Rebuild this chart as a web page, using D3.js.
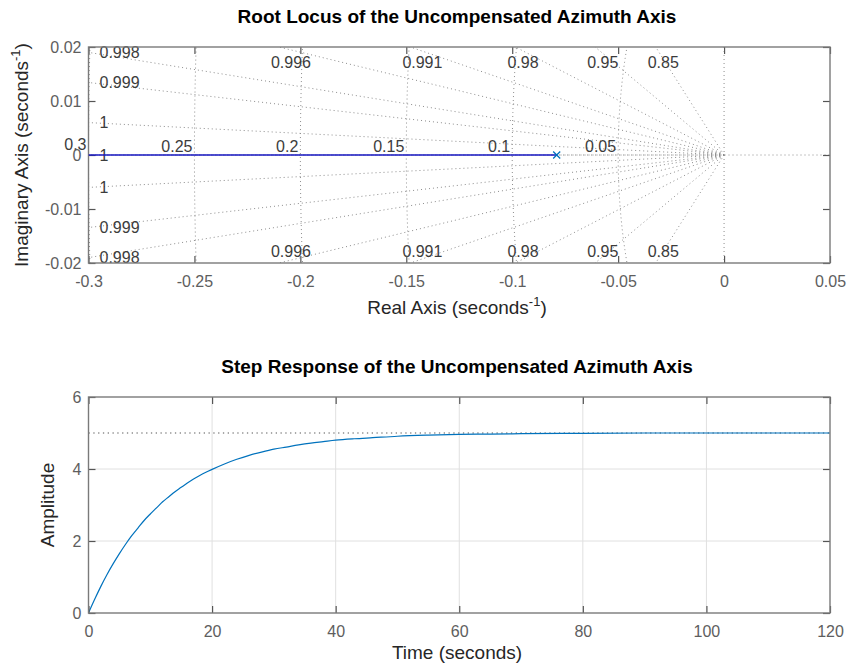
<!DOCTYPE html>
<html>
<head>
<meta charset="utf-8">
<script src="https://cdn.jsdelivr.net/npm/d3@7"></script>
<style>
  body { margin: 0; background: #fff; }
  svg { display: block; }
  text { font-family: "Liberation Sans", Arial, Helvetica, sans-serif; }
</style>
</head>
<body>
<svg id="chart" width="850" height="671"></svg>
<script>
// ---- root locus data ----
const poles = [-0.079];
const dampingValues = [0.85, 0.95, 0.98, 0.991, 0.9955, 0.998, 0.999, 0.9998, 1];
const dampingLabels = ["0.85", "0.95", "0.98", "0.991", "0.996", "0.998", "0.999", "1", "1"];
const wnValues = [0.05, 0.1, 0.15, 0.2, 0.25, 0.3];
const wnLabels = ["0.05", "0.1", "0.15", "0.2", "0.25", "0.3"];
const rlXTicks = [-0.3, -0.25, -0.2, -0.15, -0.1, -0.05, 0, 0.05];
const rlYTicks = [-0.02, -0.01, 0, 0.01, 0.02];

// ---- step response data ----
const stepTime = [0, 1, 2, 3, 4, 5, 6, 7, 8, 9, 10, 11, 12, 13, 14, 15, 16, 17, 18, 19, 20,
                  22, 24, 26, 28, 30, 32, 34, 36, 38, 40, 43, 46, 50, 55, 60, 65, 70, 80, 90, 100, 110, 120];
const stepAmp  = [0, 0.38, 0.74, 1.07, 1.37, 1.65, 1.91, 2.15, 2.36, 2.57, 2.75, 2.92, 3.09, 3.23, 3.37, 3.49, 3.61, 3.72, 3.82, 3.91, 3.99,
                  4.14, 4.27, 4.38, 4.47, 4.55, 4.61, 4.67, 4.72, 4.76, 4.80, 4.84, 4.87, 4.91, 4.94, 4.96, 4.97, 4.98, 4.99, 5.0, 5.0, 5.0, 5.0];
const finalValue = 5;
const stepXTicks = [0, 20, 40, 60, 80, 100, 120];
const stepYTicks = [0, 2, 4, 6];

const svg = d3.select('#chart');
const FONT_TICK = 16, FONT_LABEL = 19, FONT_TITLE = 19;
const BOX = '#7a7a7a', TICKTXT = '#5e5e5e', GRIDDOT = '#8c8c8c';

function drawAxes(g, x, y, xTicks, yTicks) {
  const [x0, x1] = x.range(), [y1, y0] = y.range();
  const fmt = d => String(d);
  // bottom + left with labels, top + right ticks only
  g.append('g').attr('transform', `translate(0,${y1})`)
    .call(d3.axisBottom(x).tickValues(xTicks).tickFormat(fmt).tickSizeInner(-7).tickSizeOuter(0).tickPadding(13));
  g.append('g').attr('transform', `translate(${x0},0)`)
    .call(d3.axisLeft(y).tickValues(yTicks).tickFormat(fmt).tickSizeInner(-7).tickSizeOuter(0).tickPadding(7));
  g.append('g').attr('transform', `translate(0,${y0})`)
    .call(d3.axisTop(x).tickValues(xTicks).tickFormat('').tickSizeInner(-7).tickSizeOuter(0));
  g.append('g').attr('transform', `translate(${x1},0)`)
    .call(d3.axisRight(y).tickValues(yTicks).tickFormat('').tickSizeInner(-7).tickSizeOuter(0));
  g.selectAll('.domain').remove();
  g.selectAll('.tick line').attr('stroke', '#555').attr('stroke-width', 1.2);
  g.selectAll('.tick text').attr('font-size', FONT_TICK).attr('fill', TICKTXT)
    .attr('font-family', '"Liberation Sans", Arial, sans-serif');
  g.append('rect')
    .attr('x', x0).attr('y', y0).attr('width', x1 - x0).attr('height', y1 - y0)
    .attr('fill', 'none').attr('stroke', BOX).attr('stroke-width', 1.4);
}

// ================= Root locus =================
const rl = svg.append('g');
const xR = d3.scaleLinear().domain([-0.3, 0.05]).range([88.5, 830]);
const yR = d3.scaleLinear().domain([-0.02, 0.02]).range([263, 47]);

svg.append('defs').append('clipPath').attr('id', 'clipR')
  .append('rect').attr('x', 88.5).attr('y', 47).attr('width', 830 - 88.5).attr('height', 263 - 47);

const grid = rl.append('g').attr('clip-path', 'url(#clipR)')
  .attr('fill', 'none').attr('stroke', GRIDDOT).attr('stroke-width', 1).attr('stroke-dasharray', '1,3');

// axis lines through the origin
grid.append('line').attr('x1', xR(-0.3)).attr('x2', xR(0.05)).attr('y1', yR(0)).attr('y2', yR(0));
grid.append('line').attr('x1', xR(0)).attr('x2', xR(0)).attr('y1', yR(0.02)).attr('y2', yR(-0.02));

// constant damping rays starting at the origin
const rays = [];
dampingValues.forEach((z, i) => {
  [1, -1].forEach(s => {
    if (z === 1 && s === -1) return;
    rays.push({ z, s, label: dampingLabels[i] });
  });
});
const R = 2;
grid.selectAll('path.ray').data(rays).join('path')
  .attr('class', 'ray')
  .attr('d', d => `M${xR(0)},${yR(0)}L${xR(-d.z * R)},${yR(d.s * Math.sqrt(1 - d.z * d.z) * R)}`);

// constant natural frequency semicircles
const arc = d3.line().x(a => a[0]).y(a => a[1]);
grid.selectAll('path.wn').data(wnValues).join('path')
  .attr('class', 'wn')
  .attr('d', wn => arc(d3.range(0, 361).map(k => {
    const th = Math.PI / 2 + Math.PI * k / 360;
    return [xR(wn * Math.cos(th)), yR(wn * Math.sin(th))];
  })));

// grid labels
const [xmin] = xR.domain();
const [, ymax] = yR.domain();
const lab = rl.append('g').attr('font-size', 16).attr('fill', '#3c3c3c');
rays.forEach(d => {
  const sinv = Math.sqrt(1 - d.z * d.z);
  const yHit = sinv * (-xmin / d.z);
  if (yHit <= ymax) {
    lab.append('text').attr('x', xR(xmin) + 11).attr('y', yR(d.s * yHit))
      .attr('dy', '0.36em').text(d.label);
  } else {
    const xHit = -d.z * (ymax / sinv);
    lab.append('text').attr('x', xR(xHit) - 8)
      .attr('y', d.s > 0 ? yR(ymax) + 15.5 : yR(-ymax) - 12)
      .attr('dy', '0.36em').text(d.label);
  }
});
lab.selectAll('text.wnl').data(wnValues).join('text')
  .attr('class', 'wnl')
  .attr('x', d => xR(-d) - 2).attr('y', d => yR(0) - (d === xmin * -1 ? 5 : 3))
  .attr('text-anchor', 'end').text((d, i) => wnLabels[i]);

drawAxes(rl, xR, yR, rlXTicks, rlYTicks);

// locus branch from the pole to -infinity
const locus = rl.append('g').attr('clip-path', 'url(#clipR)');
poles.forEach(p => {
  locus.append('line')
    .attr('x1', xR(p)).attr('x2', xR(xmin)).attr('y1', yR(0)).attr('y2', yR(0))
    .attr('stroke', '#1a1ac4').attr('stroke-width', 1.3);
});
rl.selectAll('path.pole').data(poles).join('path')
  .attr('class', 'pole')
  .attr('d', d3.symbol(d3.symbolX, 34))
  .attr('transform', d => `translate(${xR(d)},${yR(0)})`)
  .attr('fill', 'none').attr('stroke', '#0072BD').attr('stroke-width', 1.3);

rl.append('text').attr('x', 457).attr('y', 22.5).attr('text-anchor', 'middle')
  .attr('font-size', FONT_TITLE).attr('font-weight', 'bold').attr('fill', '#000')
  .text('Root Locus of the Uncompensated Azimuth Axis');

const xl = rl.append('text').attr('x', 457).attr('y', 314).attr('text-anchor', 'middle')
  .attr('font-size', FONT_LABEL).attr('fill', '#262626');
xl.append('tspan').text('Real Axis (seconds');
xl.append('tspan').attr('dy', -8).attr('font-size', 13).text('-1');
xl.append('tspan').attr('dy', 8).text(')');

const yl = rl.append('text').attr('transform', `translate(28,${yR(0)}) rotate(-90)`)
  .attr('text-anchor', 'middle').attr('font-size', FONT_LABEL).attr('fill', '#262626');
yl.append('tspan').text('Imaginary Axis (seconds');
yl.append('tspan').attr('dy', -8).attr('font-size', 13).text('-1');
yl.append('tspan').attr('dy', 8).text(')');

// ================= Step response =================
const st = svg.append('g');
const xS = d3.scaleLinear().domain([0, 120]).range([88.5, 830]);
const yS = d3.scaleLinear().domain([0, 6]).range([613, 397]);

const sg = st.append('g').attr('stroke', '#e0e0e0').attr('stroke-width', 1);
sg.selectAll('line.gx').data(stepXTicks.slice(1, -1)).join('line')
  .attr('x1', d => xS(d)).attr('x2', d => xS(d)).attr('y1', yS(0)).attr('y2', yS(6));
sg.selectAll('line.gy').data(stepYTicks.slice(1, -1)).join('line')
  .attr('y1', d => yS(d)).attr('y2', d => yS(d)).attr('x1', xS(0)).attr('x2', xS(120));

st.append('line')
  .attr('x1', xS(0)).attr('x2', xS(120)).attr('y1', yS(finalValue)).attr('y2', yS(finalValue))
  .attr('stroke', '#555').attr('stroke-width', 1.2).attr('stroke-dasharray', '1.3,3.5');

const stepLine = d3.line()
  .x((d, i) => xS(stepTime[i]))
  .y(d => yS(d))
  .curve(d3.curveMonotoneX);
st.append('path').datum(stepAmp)
  .attr('d', stepLine).attr('fill', 'none').attr('stroke', '#0072BD').attr('stroke-width', 1.2);

drawAxes(st, xS, yS, stepXTicks, stepYTicks);

st.append('text').attr('x', 457).attr('y', 372.5).attr('text-anchor', 'middle')
  .attr('font-size', FONT_TITLE).attr('font-weight', 'bold').attr('fill', '#000')
  .text('Step Response of the Uncompensated Azimuth Axis');
st.append('text').attr('x', 457).attr('y', 659).attr('text-anchor', 'middle')
  .attr('font-size', FONT_LABEL).attr('fill', '#262626').text('Time (seconds)');
st.append('text').attr('transform', `translate(54,${yS(3)}) rotate(-90)`)
  .attr('text-anchor', 'middle').attr('font-size', FONT_LABEL).attr('fill', '#262626').text('Amplitude');
</script>
</body>
</html>
